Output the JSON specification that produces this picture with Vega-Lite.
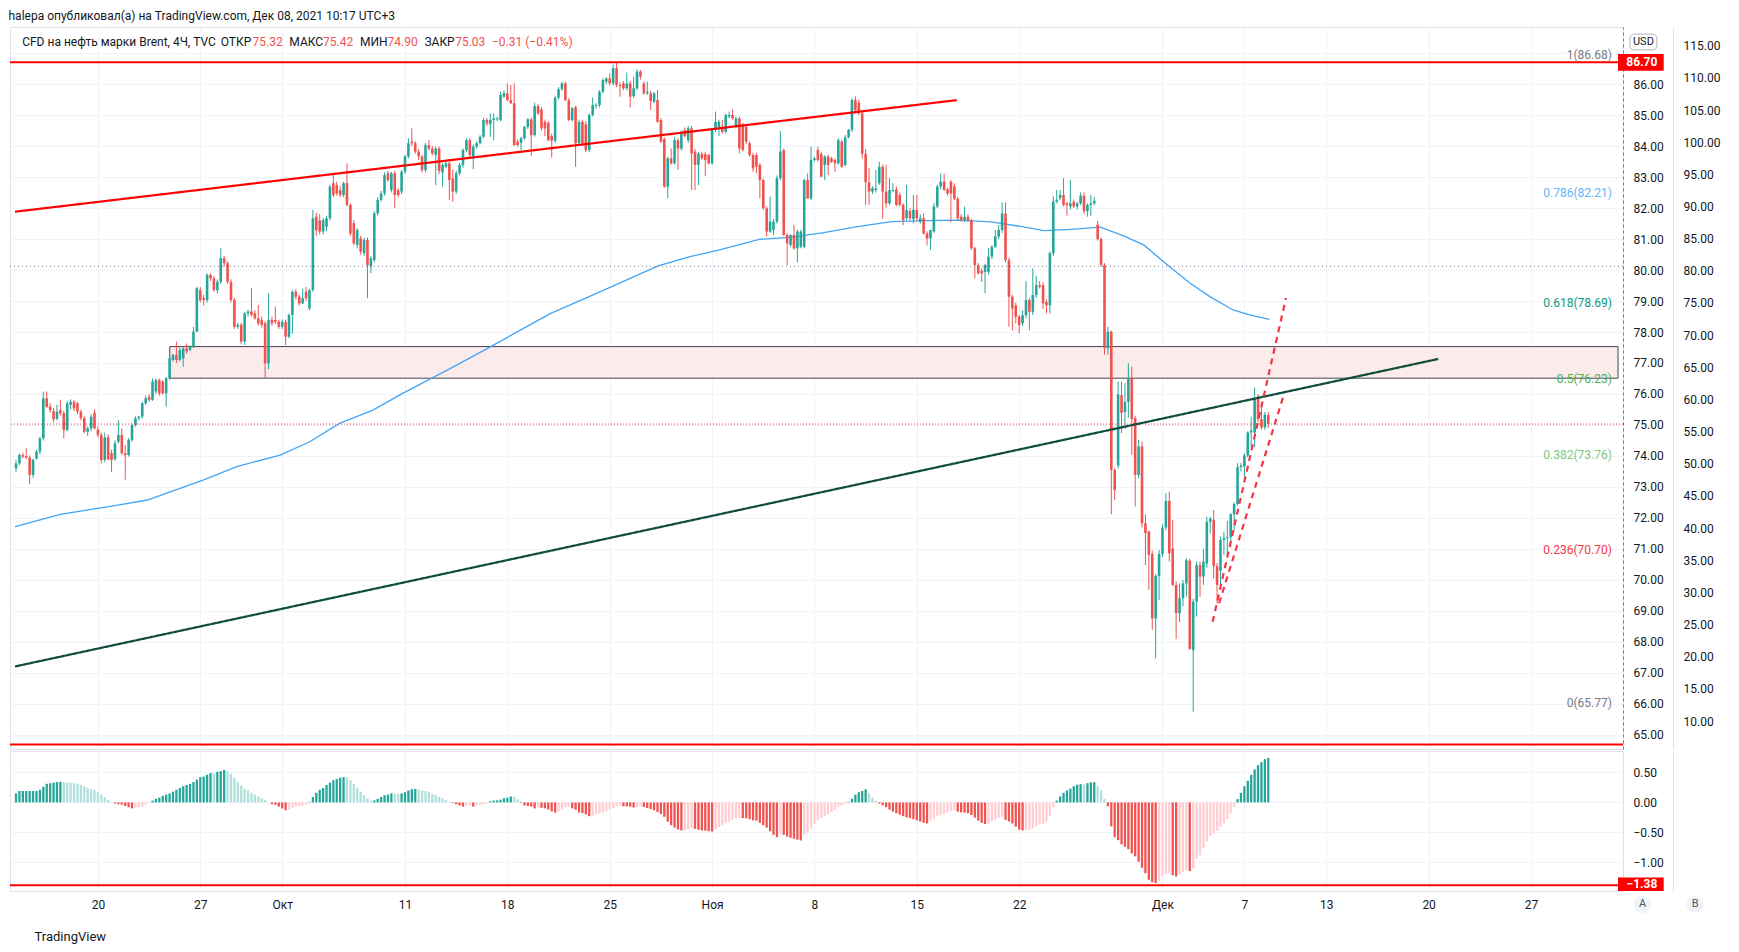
{
  "$schema": "https://vega.github.io/schema/vega-lite/v6.json",
  "padding": {"left": 8, "top": 9, "right": 4, "bottom": 4},
  "background": "white",
  "title": {"text": "halepa опубликовал(а) на TradingView.com, Дек 08, 2021 10:17 UTC+3", "anchor": "start", "fontSize": 12, "fontWeight": "normal", "color": "#131722", "font": "Roboto", "offset": 4},
  "datasets": {
    "bars": [
      {"i":0,"o":73.60,"h":73.87,"l":73.49,"c":73.76,"m":0.15},
      {"i":1,"o":73.76,"h":74.08,"l":73.70,"c":74.03,"m":0.19},
      {"i":2,"o":74.03,"h":74.10,"l":73.92,"c":73.98,"m":0.19},
      {"i":3,"o":74.00,"h":74.25,"l":73.90,"c":73.95,"m":0.19},
      {"i":4,"o":73.95,"h":74.02,"l":73.09,"c":73.39,"m":0.19},
      {"i":5,"o":73.39,"h":73.92,"l":73.30,"c":73.87,"m":0.19},
      {"i":6,"o":73.92,"h":74.20,"l":73.88,"c":74.14,"m":0.19},
      {"i":7,"o":74.14,"h":74.62,"l":74.05,"c":74.57,"m":0.21},
      {"i":8,"o":74.57,"h":76.08,"l":74.50,"c":75.86,"m":0.26},
      {"i":9,"o":75.86,"h":76.08,"l":75.55,"c":75.59,"m":0.31},
      {"i":10,"o":75.59,"h":75.70,"l":75.40,"c":75.48,"m":0.32},
      {"i":11,"o":75.45,"h":75.55,"l":75.10,"c":75.18,"m":0.33},
      {"i":12,"o":75.20,"h":75.65,"l":75.15,"c":75.43,"m":0.34},
      {"i":13,"o":75.48,"h":75.81,"l":75.30,"c":75.38,"m":0.345},
      {"i":14,"o":75.38,"h":75.45,"l":74.57,"c":74.84,"m":0.335},
      {"i":15,"o":74.84,"h":75.78,"l":74.80,"c":75.70,"m":0.33},
      {"i":16,"o":75.65,"h":75.83,"l":75.50,"c":75.75,"m":0.325},
      {"i":17,"o":75.75,"h":75.80,"l":75.45,"c":75.54,"m":0.32},
      {"i":18,"o":75.70,"h":75.75,"l":75.35,"c":75.43,"m":0.31},
      {"i":19,"o":75.43,"h":75.50,"l":75.15,"c":75.22,"m":0.29},
      {"i":20,"o":75.22,"h":75.30,"l":74.73,"c":74.78,"m":0.27},
      {"i":21,"o":74.78,"h":74.95,"l":74.65,"c":74.89,"m":0.24},
      {"i":22,"o":74.89,"h":75.35,"l":74.80,"c":75.27,"m":0.22},
      {"i":23,"o":75.40,"h":75.50,"l":74.85,"c":74.89,"m":0.21},
      {"i":24,"o":74.85,"h":74.95,"l":74.60,"c":74.68,"m":0.17},
      {"i":25,"o":74.68,"h":74.75,"l":73.76,"c":73.87,"m":0.13},
      {"i":26,"o":73.87,"h":74.75,"l":73.80,"c":74.60,"m":0.09},
      {"i":27,"o":74.60,"h":74.70,"l":73.85,"c":73.90,"m":0.04},
      {"i":28,"o":74.10,"h":74.20,"l":73.49,"c":73.87,"m":0.01},
      {"i":29,"o":73.90,"h":74.50,"l":73.85,"c":74.41,"m":-0.02},
      {"i":30,"o":74.46,"h":75.16,"l":74.40,"c":74.68,"m":-0.03},
      {"i":31,"o":74.68,"h":74.89,"l":74.05,"c":74.09,"m":-0.04},
      {"i":32,"o":74.09,"h":74.35,"l":73.23,"c":74.03,"m":-0.06},
      {"i":33,"o":74.03,"h":74.58,"l":73.98,"c":74.52,"m":-0.08},
      {"i":34,"o":74.52,"h":75.05,"l":74.45,"c":75.00,"m":-0.10},
      {"i":35,"o":75.00,"h":75.28,"l":74.95,"c":75.22,"m":-0.095},
      {"i":36,"o":75.22,"h":75.30,"l":75.15,"c":75.27,"m":-0.08},
      {"i":37,"o":75.27,"h":75.75,"l":75.20,"c":75.70,"m":-0.07},
      {"i":38,"o":75.70,"h":75.95,"l":75.65,"c":75.86,"m":-0.04},
      {"i":39,"o":75.90,"h":76.00,"l":75.75,"c":75.81,"m":-0.01},
      {"i":40,"o":75.81,"h":76.50,"l":75.78,"c":76.40,"m":0.03},
      {"i":41,"o":76.08,"h":76.50,"l":76.00,"c":76.45,"m":0.06},
      {"i":42,"o":76.45,"h":76.50,"l":75.95,"c":76.02,"m":0.08},
      {"i":43,"o":76.40,"h":76.45,"l":75.98,"c":76.02,"m":0.11},
      {"i":44,"o":76.02,"h":76.55,"l":75.59,"c":76.51,"m":0.13},
      {"i":45,"o":76.51,"h":77.20,"l":76.45,"c":77.15,"m":0.15},
      {"i":46,"o":77.10,"h":77.30,"l":77.05,"c":77.26,"m":0.18},
      {"i":47,"o":77.26,"h":77.69,"l":77.00,"c":77.10,"m":0.21},
      {"i":48,"o":77.10,"h":77.50,"l":77.05,"c":77.42,"m":0.24},
      {"i":49,"o":77.15,"h":77.50,"l":76.88,"c":77.47,"m":0.27},
      {"i":50,"o":77.47,"h":77.63,"l":77.30,"c":77.37,"m":0.29},
      {"i":51,"o":77.42,"h":77.58,"l":77.38,"c":77.53,"m":0.31},
      {"i":52,"o":77.53,"h":78.17,"l":77.48,"c":78.01,"m":0.34},
      {"i":53,"o":78.01,"h":79.46,"l":78.00,"c":79.41,"m":0.38},
      {"i":54,"o":79.35,"h":79.45,"l":78.95,"c":79.03,"m":0.42},
      {"i":55,"o":79.09,"h":79.20,"l":78.85,"c":79.03,"m":0.43},
      {"i":56,"o":79.03,"h":79.90,"l":78.95,"c":79.84,"m":0.46},
      {"i":57,"o":79.84,"h":79.90,"l":79.65,"c":79.73,"m":0.49},
      {"i":58,"o":79.73,"h":79.80,"l":79.30,"c":79.35,"m":0.485},
      {"i":59,"o":79.35,"h":79.70,"l":79.25,"c":79.62,"m":0.51},
      {"i":60,"o":79.62,"h":80.70,"l":79.55,"c":80.38,"m":0.52},
      {"i":61,"o":80.38,"h":80.45,"l":80.10,"c":80.22,"m":0.54},
      {"i":62,"o":80.22,"h":80.28,"l":79.55,"c":79.62,"m":0.52},
      {"i":63,"o":79.62,"h":79.70,"l":78.95,"c":79.03,"m":0.48},
      {"i":64,"o":79.03,"h":79.10,"l":78.10,"c":78.17,"m":0.41},
      {"i":65,"o":78.17,"h":78.30,"l":78.10,"c":78.23,"m":0.34},
      {"i":66,"o":78.23,"h":78.30,"l":77.60,"c":77.69,"m":0.28},
      {"i":67,"o":77.69,"h":78.65,"l":77.58,"c":78.60,"m":0.23},
      {"i":68,"o":78.60,"h":78.72,"l":78.50,"c":78.66,"m":0.20},
      {"i":69,"o":78.66,"h":79.41,"l":78.50,"c":78.55,"m":0.16},
      {"i":70,"o":78.60,"h":78.70,"l":78.40,"c":78.44,"m":0.13},
      {"i":71,"o":78.44,"h":78.87,"l":78.20,"c":78.28,"m":0.10},
      {"i":72,"o":78.39,"h":78.50,"l":78.15,"c":78.23,"m":0.07},
      {"i":73,"o":78.28,"h":78.35,"l":76.51,"c":76.99,"m":0.04},
      {"i":74,"o":76.99,"h":79.25,"l":76.80,"c":78.39,"m":0.01},
      {"i":75,"o":78.39,"h":78.50,"l":78.20,"c":78.28,"m":-0.03},
      {"i":76,"o":78.39,"h":78.82,"l":78.25,"c":78.33,"m":-0.04},
      {"i":77,"o":78.33,"h":78.40,"l":78.10,"c":78.17,"m":-0.07},
      {"i":78,"o":78.17,"h":78.40,"l":78.10,"c":78.33,"m":-0.10},
      {"i":79,"o":78.33,"h":78.40,"l":77.58,"c":77.85,"m":-0.13},
      {"i":80,"o":77.85,"h":78.60,"l":77.80,"c":78.55,"m":-0.12},
      {"i":81,"o":78.55,"h":79.35,"l":77.95,"c":79.30,"m":-0.09},
      {"i":82,"o":79.30,"h":79.38,"l":79.05,"c":79.14,"m":-0.07},
      {"i":83,"o":79.14,"h":79.20,"l":78.85,"c":78.92,"m":-0.065},
      {"i":84,"o":78.92,"h":79.40,"l":78.90,"c":79.09,"m":-0.055},
      {"i":85,"o":79.30,"h":79.45,"l":79.00,"c":79.09,"m":-0.04},
      {"i":86,"o":78.76,"h":79.40,"l":78.70,"c":79.35,"m":0.01},
      {"i":87,"o":79.35,"h":81.94,"l":79.30,"c":81.67,"m":0.09},
      {"i":88,"o":81.72,"h":81.85,"l":81.10,"c":81.29,"m":0.16},
      {"i":89,"o":81.60,"h":81.80,"l":81.15,"c":81.24,"m":0.21},
      {"i":90,"o":81.24,"h":81.68,"l":81.15,"c":81.61,"m":0.24},
      {"i":91,"o":81.40,"h":81.75,"l":81.25,"c":81.67,"m":0.29},
      {"i":92,"o":81.67,"h":82.75,"l":81.60,"c":82.69,"m":0.33},
      {"i":93,"o":82.80,"h":83.12,"l":82.35,"c":82.42,"m":0.37},
      {"i":94,"o":82.74,"h":82.85,"l":82.40,"c":82.47,"m":0.39},
      {"i":95,"o":82.58,"h":82.70,"l":82.35,"c":82.42,"m":0.41},
      {"i":96,"o":82.42,"h":82.85,"l":82.35,"c":82.80,"m":0.42},
      {"i":97,"o":82.80,"h":83.44,"l":82.05,"c":82.10,"m":0.415},
      {"i":98,"o":82.10,"h":82.15,"l":81.10,"c":81.18,"m":0.37},
      {"i":99,"o":81.51,"h":81.60,"l":80.80,"c":80.86,"m":0.31},
      {"i":100,"o":80.81,"h":81.35,"l":80.70,"c":81.29,"m":0.24},
      {"i":101,"o":81.02,"h":81.10,"l":80.50,"c":80.59,"m":0.18},
      {"i":102,"o":80.54,"h":81.05,"l":80.45,"c":80.97,"m":0.12},
      {"i":103,"o":80.97,"h":81.05,"l":79.09,"c":80.16,"m":0.07},
      {"i":104,"o":80.11,"h":80.45,"l":79.90,"c":80.38,"m":0.03},
      {"i":105,"o":80.32,"h":81.90,"l":80.25,"c":81.83,"m":0.035},
      {"i":106,"o":81.83,"h":82.35,"l":81.75,"c":82.26,"m":0.06},
      {"i":107,"o":82.26,"h":82.55,"l":82.20,"c":82.47,"m":0.09},
      {"i":108,"o":82.47,"h":83.15,"l":82.40,"c":83.06,"m":0.12},
      {"i":109,"o":83.12,"h":83.20,"l":82.85,"c":82.90,"m":0.13},
      {"i":110,"o":82.58,"h":83.17,"l":82.50,"c":83.12,"m":0.15},
      {"i":111,"o":83.12,"h":83.20,"l":82.00,"c":82.42,"m":0.145},
      {"i":112,"o":82.58,"h":82.65,"l":82.35,"c":82.42,"m":0.14},
      {"i":113,"o":82.53,"h":83.22,"l":82.45,"c":83.17,"m":0.15},
      {"i":114,"o":83.17,"h":83.72,"l":83.10,"c":83.66,"m":0.17},
      {"i":115,"o":83.66,"h":84.25,"l":83.60,"c":84.09,"m":0.20},
      {"i":116,"o":84.14,"h":84.57,"l":84.00,"c":84.09,"m":0.22},
      {"i":117,"o":84.09,"h":84.15,"l":83.75,"c":83.82,"m":0.225},
      {"i":118,"o":83.82,"h":83.90,"l":83.55,"c":83.66,"m":0.21},
      {"i":119,"o":83.66,"h":83.72,"l":83.15,"c":83.23,"m":0.20},
      {"i":120,"o":83.23,"h":84.10,"l":83.15,"c":84.03,"m":0.19},
      {"i":121,"o":84.03,"h":84.19,"l":83.85,"c":83.92,"m":0.17},
      {"i":122,"o":83.92,"h":84.00,"l":83.70,"c":83.76,"m":0.14},
      {"i":123,"o":83.71,"h":83.98,"l":82.74,"c":83.92,"m":0.12},
      {"i":124,"o":83.92,"h":83.98,"l":83.10,"c":83.20,"m":0.09},
      {"i":125,"o":83.15,"h":83.45,"l":82.69,"c":83.39,"m":0.07},
      {"i":126,"o":83.33,"h":83.50,"l":83.28,"c":83.44,"m":0.04},
      {"i":127,"o":83.44,"h":83.50,"l":82.26,"c":82.90,"m":0.01},
      {"i":128,"o":82.95,"h":83.25,"l":82.20,"c":82.53,"m":-0.01},
      {"i":129,"o":82.53,"h":83.20,"l":82.45,"c":83.12,"m":-0.03},
      {"i":130,"o":83.12,"h":83.45,"l":83.05,"c":83.39,"m":-0.05},
      {"i":131,"o":83.39,"h":83.92,"l":83.30,"c":83.87,"m":-0.07},
      {"i":132,"o":83.87,"h":84.25,"l":83.80,"c":84.19,"m":-0.055},
      {"i":133,"o":84.19,"h":84.25,"l":83.65,"c":83.71,"m":-0.045},
      {"i":134,"o":83.60,"h":84.05,"l":83.25,"c":83.98,"m":-0.07},
      {"i":135,"o":83.98,"h":84.15,"l":83.92,"c":84.09,"m":-0.05},
      {"i":136,"o":84.09,"h":84.35,"l":84.05,"c":84.30,"m":-0.04},
      {"i":137,"o":84.30,"h":84.90,"l":84.25,"c":84.84,"m":-0.03},
      {"i":138,"o":84.84,"h":84.90,"l":84.65,"c":84.73,"m":-0.02},
      {"i":139,"o":84.70,"h":85.05,"l":84.30,"c":84.84,"m":0.02},
      {"i":140,"o":84.84,"h":85.05,"l":84.19,"c":84.89,"m":0.03},
      {"i":141,"o":84.86,"h":84.95,"l":84.80,"c":84.89,"m":0.035},
      {"i":142,"o":84.84,"h":85.75,"l":84.80,"c":85.65,"m":0.045},
      {"i":143,"o":85.59,"h":85.80,"l":85.55,"c":85.70,"m":0.07},
      {"i":144,"o":85.70,"h":86.02,"l":85.45,"c":85.48,"m":0.08},
      {"i":145,"o":85.48,"h":85.97,"l":85.35,"c":85.38,"m":0.10},
      {"i":146,"o":85.38,"h":86.02,"l":84.00,"c":84.03,"m":0.095},
      {"i":147,"o":84.14,"h":84.20,"l":83.98,"c":84.03,"m":0.05},
      {"i":148,"o":84.10,"h":84.30,"l":83.87,"c":84.25,"m":-0.01},
      {"i":149,"o":84.25,"h":84.65,"l":84.20,"c":84.62,"m":-0.05},
      {"i":150,"o":84.62,"h":84.90,"l":84.55,"c":84.86,"m":-0.06},
      {"i":151,"o":84.86,"h":84.92,"l":83.68,"c":84.35,"m":-0.07},
      {"i":152,"o":84.35,"h":85.40,"l":84.30,"c":85.29,"m":-0.10},
      {"i":153,"o":85.29,"h":85.35,"l":85.00,"c":85.05,"m":-0.08},
      {"i":154,"o":85.18,"h":85.25,"l":84.50,"c":84.57,"m":-0.09},
      {"i":155,"o":84.78,"h":84.85,"l":84.32,"c":84.57,"m":-0.10},
      {"i":156,"o":84.75,"h":84.80,"l":84.15,"c":84.19,"m":-0.12},
      {"i":157,"o":84.32,"h":84.40,"l":83.63,"c":84.17,"m":-0.15},
      {"i":158,"o":84.17,"h":85.60,"l":84.10,"c":85.56,"m":-0.17},
      {"i":159,"o":85.56,"h":85.90,"l":85.50,"c":85.83,"m":-0.15},
      {"i":160,"o":85.83,"h":86.06,"l":85.78,"c":86.02,"m":-0.12},
      {"i":161,"o":86.02,"h":86.08,"l":85.45,"c":85.48,"m":-0.08},
      {"i":162,"o":85.48,"h":85.55,"l":84.80,"c":84.84,"m":-0.075},
      {"i":163,"o":84.84,"h":85.25,"l":84.78,"c":85.22,"m":-0.10},
      {"i":164,"o":85.25,"h":85.30,"l":83.33,"c":84.09,"m":-0.12},
      {"i":165,"o":84.09,"h":84.85,"l":84.00,"c":84.78,"m":-0.17},
      {"i":166,"o":84.78,"h":84.85,"l":84.00,"c":84.09,"m":-0.18},
      {"i":167,"o":84.70,"h":84.80,"l":83.80,"c":83.87,"m":-0.20},
      {"i":168,"o":83.87,"h":85.05,"l":83.80,"c":85.00,"m":-0.23},
      {"i":169,"o":85.00,"h":85.56,"l":84.95,"c":85.32,"m":-0.22},
      {"i":170,"o":85.29,"h":85.38,"l":85.20,"c":85.32,"m":-0.20},
      {"i":171,"o":85.32,"h":85.80,"l":85.25,"c":85.75,"m":-0.185},
      {"i":172,"o":85.75,"h":86.18,"l":85.70,"c":86.13,"m":-0.17},
      {"i":173,"o":86.08,"h":86.22,"l":86.00,"c":86.18,"m":-0.15},
      {"i":174,"o":86.18,"h":86.34,"l":85.95,"c":86.02,"m":-0.12},
      {"i":175,"o":86.02,"h":86.63,"l":85.95,"c":86.51,"m":-0.095},
      {"i":176,"o":86.51,"h":86.68,"l":85.90,"c":85.97,"m":-0.07},
      {"i":177,"o":85.97,"h":86.05,"l":85.59,"c":85.94,"m":-0.055},
      {"i":178,"o":86.02,"h":86.10,"l":85.80,"c":85.86,"m":-0.065},
      {"i":179,"o":85.86,"h":86.37,"l":85.80,"c":86.02,"m":-0.067},
      {"i":180,"o":86.02,"h":86.10,"l":85.25,"c":85.59,"m":-0.07},
      {"i":181,"o":85.61,"h":86.24,"l":85.55,"c":85.86,"m":-0.085},
      {"i":182,"o":85.86,"h":86.47,"l":85.80,"c":86.40,"m":-0.08},
      {"i":183,"o":86.40,"h":86.45,"l":86.15,"c":86.24,"m":-0.065},
      {"i":184,"o":86.02,"h":86.08,"l":85.65,"c":85.70,"m":-0.075},
      {"i":185,"o":85.70,"h":86.08,"l":85.65,"c":85.75,"m":-0.095},
      {"i":186,"o":85.70,"h":85.78,"l":85.16,"c":85.45,"m":-0.11},
      {"i":187,"o":85.43,"h":85.75,"l":85.38,"c":85.70,"m":-0.13},
      {"i":188,"o":85.48,"h":85.81,"l":84.75,"c":84.78,"m":-0.16},
      {"i":189,"o":84.84,"h":84.90,"l":84.10,"c":84.14,"m":-0.195},
      {"i":190,"o":84.22,"h":84.28,"l":82.65,"c":82.69,"m":-0.24},
      {"i":191,"o":82.69,"h":83.65,"l":82.31,"c":83.60,"m":-0.32},
      {"i":192,"o":83.60,"h":83.92,"l":83.40,"c":83.44,"m":-0.38},
      {"i":193,"o":83.44,"h":84.28,"l":83.40,"c":84.19,"m":-0.42},
      {"i":194,"o":84.19,"h":84.25,"l":83.23,"c":83.92,"m":-0.45},
      {"i":195,"o":83.92,"h":84.50,"l":83.85,"c":84.46,"m":-0.467},
      {"i":196,"o":84.52,"h":84.60,"l":84.28,"c":84.32,"m":-0.46},
      {"i":197,"o":84.19,"h":84.65,"l":84.10,"c":84.57,"m":-0.45},
      {"i":198,"o":84.57,"h":84.65,"l":82.58,"c":83.76,"m":-0.43},
      {"i":199,"o":83.82,"h":83.90,"l":82.58,"c":83.39,"m":-0.44},
      {"i":200,"o":83.39,"h":83.80,"l":82.74,"c":83.76,"m":-0.455},
      {"i":201,"o":83.74,"h":83.82,"l":83.55,"c":83.60,"m":-0.467},
      {"i":202,"o":83.74,"h":83.80,"l":83.03,"c":83.55,"m":-0.47},
      {"i":203,"o":83.71,"h":83.75,"l":83.40,"c":83.44,"m":-0.48},
      {"i":204,"o":83.44,"h":84.58,"l":83.40,"c":84.52,"m":-0.485},
      {"i":205,"o":84.52,"h":85.11,"l":84.45,"c":84.78,"m":-0.45},
      {"i":206,"o":84.62,"h":84.85,"l":84.32,"c":84.78,"m":-0.41},
      {"i":207,"o":84.62,"h":84.84,"l":84.40,"c":84.46,"m":-0.38},
      {"i":208,"o":84.46,"h":85.05,"l":84.40,"c":85.00,"m":-0.34},
      {"i":209,"o":84.95,"h":85.11,"l":84.90,"c":85.00,"m":-0.32},
      {"i":210,"o":85.00,"h":85.18,"l":84.85,"c":84.89,"m":-0.29},
      {"i":211,"o":84.62,"h":84.95,"l":84.57,"c":84.89,"m":-0.27},
      {"i":212,"o":84.89,"h":84.95,"l":83.76,"c":83.92,"m":-0.255},
      {"i":213,"o":84.68,"h":84.75,"l":83.82,"c":83.87,"m":-0.26},
      {"i":214,"o":84.62,"h":84.68,"l":84.05,"c":84.14,"m":-0.265},
      {"i":215,"o":84.09,"h":84.15,"l":83.65,"c":83.71,"m":-0.28},
      {"i":216,"o":83.71,"h":83.78,"l":83.17,"c":83.28,"m":-0.30},
      {"i":217,"o":83.71,"h":83.78,"l":83.12,"c":83.33,"m":-0.305},
      {"i":218,"o":83.39,"h":83.45,"l":82.31,"c":82.90,"m":-0.34},
      {"i":219,"o":82.90,"h":82.95,"l":81.94,"c":81.99,"m":-0.38},
      {"i":220,"o":81.99,"h":82.05,"l":81.08,"c":81.24,"m":-0.42},
      {"i":221,"o":81.24,"h":82.37,"l":81.20,"c":81.56,"m":-0.48},
      {"i":222,"o":81.29,"h":81.65,"l":81.13,"c":81.56,"m":-0.54},
      {"i":223,"o":81.56,"h":83.05,"l":81.50,"c":82.96,"m":-0.58},
      {"i":224,"o":82.96,"h":84.49,"l":82.90,"c":83.82,"m":-0.52},
      {"i":225,"o":83.87,"h":83.92,"l":81.10,"c":81.13,"m":-0.54},
      {"i":226,"o":81.13,"h":81.20,"l":80.16,"c":80.86,"m":-0.57},
      {"i":227,"o":80.81,"h":81.15,"l":80.75,"c":81.13,"m":-0.59},
      {"i":228,"o":81.13,"h":81.45,"l":80.65,"c":80.70,"m":-0.605},
      {"i":229,"o":80.70,"h":81.30,"l":80.25,"c":81.24,"m":-0.62},
      {"i":230,"o":80.75,"h":81.30,"l":80.70,"c":81.24,"m":-0.635},
      {"i":231,"o":80.75,"h":82.95,"l":80.70,"c":82.90,"m":-0.54},
      {"i":232,"o":82.90,"h":83.12,"l":82.30,"c":82.31,"m":-0.51},
      {"i":233,"o":82.31,"h":83.98,"l":82.25,"c":83.55,"m":-0.44},
      {"i":234,"o":83.55,"h":83.65,"l":83.50,"c":83.60,"m":-0.36},
      {"i":235,"o":83.87,"h":83.98,"l":83.50,"c":83.55,"m":-0.30},
      {"i":236,"o":83.74,"h":83.80,"l":83.00,"c":83.01,"m":-0.26},
      {"i":237,"o":83.39,"h":83.70,"l":82.90,"c":83.66,"m":-0.23},
      {"i":238,"o":83.66,"h":83.72,"l":83.06,"c":83.39,"m":-0.20},
      {"i":239,"o":83.60,"h":83.65,"l":83.45,"c":83.49,"m":-0.16},
      {"i":240,"o":83.55,"h":83.60,"l":83.17,"c":83.44,"m":-0.12},
      {"i":241,"o":83.44,"h":84.25,"l":83.40,"c":84.19,"m":-0.08},
      {"i":242,"o":84.14,"h":84.20,"l":83.30,"c":83.33,"m":-0.05},
      {"i":243,"o":83.39,"h":84.35,"l":83.35,"c":84.28,"m":-0.02},
      {"i":244,"o":84.28,"h":84.55,"l":84.25,"c":84.52,"m":0.01},
      {"i":245,"o":84.52,"h":85.54,"l":84.45,"c":85.48,"m":0.06},
      {"i":246,"o":85.48,"h":85.60,"l":85.10,"c":85.16,"m":0.13},
      {"i":247,"o":85.40,"h":85.50,"l":85.00,"c":85.05,"m":0.17},
      {"i":248,"o":85.05,"h":85.15,"l":83.60,"c":83.75,"m":0.19},
      {"i":249,"o":83.75,"h":83.90,"l":82.10,"c":82.83,"m":0.22},
      {"i":250,"o":82.83,"h":83.28,"l":82.10,"c":82.53,"m":0.15},
      {"i":251,"o":82.53,"h":82.70,"l":82.45,"c":82.64,"m":0.08},
      {"i":252,"o":82.58,"h":83.22,"l":82.50,"c":82.63,"m":0.03},
      {"i":253,"o":82.80,"h":83.49,"l":82.75,"c":83.33,"m":-0.02},
      {"i":254,"o":83.33,"h":83.40,"l":81.65,"c":82.53,"m":-0.05},
      {"i":255,"o":82.53,"h":83.39,"l":82.01,"c":82.15,"m":-0.08},
      {"i":256,"o":82.15,"h":82.96,"l":82.10,"c":82.58,"m":-0.12},
      {"i":257,"o":82.55,"h":82.80,"l":82.50,"c":82.58,"m":-0.155},
      {"i":258,"o":82.60,"h":82.70,"l":82.05,"c":82.10,"m":-0.18},
      {"i":259,"o":82.42,"h":82.50,"l":82.05,"c":82.10,"m":-0.205},
      {"i":260,"o":82.10,"h":82.15,"l":81.45,"c":81.61,"m":-0.23},
      {"i":261,"o":81.67,"h":82.75,"l":81.60,"c":81.94,"m":-0.25},
      {"i":262,"o":81.90,"h":82.00,"l":81.60,"c":81.67,"m":-0.26},
      {"i":263,"o":81.64,"h":82.42,"l":81.51,"c":81.94,"m":-0.28},
      {"i":264,"o":81.94,"h":82.42,"l":81.60,"c":81.67,"m":-0.30},
      {"i":265,"o":81.56,"h":81.80,"l":81.50,"c":81.67,"m":-0.32},
      {"i":266,"o":81.67,"h":81.83,"l":81.15,"c":81.18,"m":-0.34},
      {"i":267,"o":81.18,"h":81.25,"l":80.79,"c":81.02,"m":-0.35},
      {"i":268,"o":81.02,"h":81.30,"l":80.65,"c":81.29,"m":-0.30},
      {"i":269,"o":81.24,"h":82.15,"l":81.20,"c":82.05,"m":-0.27},
      {"i":270,"o":82.05,"h":82.75,"l":82.00,"c":82.69,"m":-0.23},
      {"i":271,"o":82.69,"h":83.11,"l":82.60,"c":82.85,"m":-0.21},
      {"i":272,"o":82.85,"h":83.11,"l":82.55,"c":82.58,"m":-0.19},
      {"i":273,"o":82.60,"h":82.65,"l":82.40,"c":82.47,"m":-0.165},
      {"i":274,"o":82.85,"h":82.90,"l":81.54,"c":82.47,"m":-0.145},
      {"i":275,"o":82.70,"h":82.80,"l":82.25,"c":82.30,"m":-0.13},
      {"i":276,"o":82.30,"h":82.35,"l":81.60,"c":81.67,"m":-0.155},
      {"i":277,"o":81.72,"h":81.80,"l":81.55,"c":81.61,"m":-0.165},
      {"i":278,"o":81.61,"h":82.05,"l":81.55,"c":81.72,"m":-0.17},
      {"i":279,"o":81.72,"h":81.80,"l":81.55,"c":81.61,"m":-0.18},
      {"i":280,"o":81.61,"h":81.65,"l":80.65,"c":80.70,"m":-0.21},
      {"i":281,"o":80.70,"h":80.75,"l":79.73,"c":80.16,"m":-0.255},
      {"i":282,"o":80.16,"h":80.22,"l":79.85,"c":79.89,"m":-0.305},
      {"i":283,"o":79.97,"h":80.05,"l":79.62,"c":79.89,"m":-0.34},
      {"i":284,"o":79.94,"h":80.20,"l":79.25,"c":80.16,"m":-0.36},
      {"i":285,"o":79.94,"h":80.70,"l":79.85,"c":80.43,"m":-0.355},
      {"i":286,"o":80.43,"h":80.80,"l":80.35,"c":80.75,"m":-0.31},
      {"i":287,"o":80.75,"h":81.29,"l":80.70,"c":81.08,"m":-0.285},
      {"i":288,"o":81.08,"h":81.45,"l":81.00,"c":81.29,"m":-0.255},
      {"i":289,"o":81.29,"h":82.18,"l":81.20,"c":81.82,"m":-0.245},
      {"i":290,"o":81.82,"h":82.18,"l":80.25,"c":80.32,"m":-0.29},
      {"i":291,"o":80.32,"h":80.40,"l":78.17,"c":79.14,"m":-0.32},
      {"i":292,"o":79.14,"h":79.20,"l":78.05,"c":78.76,"m":-0.35},
      {"i":293,"o":78.86,"h":78.95,"l":78.28,"c":78.49,"m":-0.405},
      {"i":294,"o":78.49,"h":78.55,"l":77.96,"c":78.22,"m":-0.455},
      {"i":295,"o":78.28,"h":78.70,"l":78.20,"c":78.54,"m":-0.467},
      {"i":296,"o":78.54,"h":79.64,"l":78.45,"c":79.03,"m":-0.46},
      {"i":297,"o":79.03,"h":79.10,"l":78.06,"c":78.65,"m":-0.455},
      {"i":298,"o":78.65,"h":80.05,"l":78.55,"c":79.19,"m":-0.43},
      {"i":299,"o":79.19,"h":79.80,"l":79.10,"c":79.51,"m":-0.40},
      {"i":300,"o":79.51,"h":79.64,"l":79.40,"c":79.46,"m":-0.37},
      {"i":301,"o":79.51,"h":79.60,"l":78.74,"c":78.92,"m":-0.36},
      {"i":302,"o":78.97,"h":79.05,"l":78.60,"c":78.86,"m":-0.32},
      {"i":303,"o":78.86,"h":80.60,"l":78.60,"c":80.54,"m":-0.22},
      {"i":304,"o":80.54,"h":82.37,"l":80.45,"c":82.21,"m":-0.08},
      {"i":305,"o":82.21,"h":82.58,"l":82.15,"c":82.26,"m":0.03},
      {"i":306,"o":82.32,"h":82.58,"l":82.25,"c":82.42,"m":0.10},
      {"i":307,"o":82.42,"h":82.96,"l":82.05,"c":82.10,"m":0.16},
      {"i":308,"o":82.15,"h":82.20,"l":81.75,"c":82.10,"m":0.20},
      {"i":309,"o":82.05,"h":82.90,"l":81.95,"c":82.15,"m":0.23},
      {"i":310,"o":82.20,"h":82.28,"l":82.00,"c":82.05,"m":0.27},
      {"i":311,"o":82.05,"h":82.20,"l":81.95,"c":82.15,"m":0.295},
      {"i":312,"o":82.15,"h":82.50,"l":82.10,"c":82.40,"m":0.305},
      {"i":313,"o":82.40,"h":82.50,"l":81.80,"c":81.90,"m":0.30},
      {"i":314,"o":81.90,"h":82.15,"l":81.72,"c":82.10,"m":0.32},
      {"i":315,"o":82.10,"h":82.42,"l":81.75,"c":82.15,"m":0.335},
      {"i":316,"o":82.15,"h":82.35,"l":82.10,"c":82.23,"m":0.337},
      {"i":317,"o":81.46,"h":81.58,"l":80.95,"c":81.00,"m":0.27},
      {"i":318,"o":81.00,"h":81.05,"l":80.10,"c":80.16,"m":0.20},
      {"i":319,"o":80.16,"h":80.22,"l":77.27,"c":77.48,"m":0.06},
      {"i":320,"o":77.48,"h":78.17,"l":77.27,"c":78.01,"m":-0.065},
      {"i":321,"o":78.01,"h":78.05,"l":72.12,"c":73.55,"m":-0.40},
      {"i":322,"o":73.55,"h":73.60,"l":72.58,"c":72.90,"m":-0.58},
      {"i":323,"o":73.69,"h":76.40,"l":73.60,"c":75.99,"m":-0.63},
      {"i":324,"o":75.96,"h":76.40,"l":74.74,"c":75.39,"m":-0.70},
      {"i":325,"o":75.42,"h":76.35,"l":74.88,"c":75.74,"m":-0.74},
      {"i":326,"o":75.74,"h":76.99,"l":75.23,"c":76.51,"m":-0.78},
      {"i":327,"o":76.51,"h":76.88,"l":74.04,"c":75.19,"m":-0.85},
      {"i":328,"o":75.22,"h":75.30,"l":72.37,"c":73.39,"m":-0.90},
      {"i":329,"o":73.39,"h":74.52,"l":73.28,"c":74.31,"m":-0.99},
      {"i":330,"o":74.31,"h":74.47,"l":71.70,"c":71.83,"m":-1.09},
      {"i":331,"o":71.83,"h":72.12,"l":70.48,"c":71.51,"m":-1.18},
      {"i":332,"o":71.56,"h":71.60,"l":69.68,"c":70.81,"m":-1.29},
      {"i":333,"o":70.84,"h":70.95,"l":68.39,"c":68.76,"m":-1.33},
      {"i":334,"o":68.76,"h":70.20,"l":67.47,"c":70.13,"m":-1.345},
      {"i":335,"o":70.13,"h":70.97,"l":69.35,"c":70.84,"m":-1.305},
      {"i":336,"o":70.84,"h":71.80,"l":70.75,"c":71.69,"m":-1.22},
      {"i":337,"o":71.69,"h":72.80,"l":71.60,"c":72.55,"m":-1.19},
      {"i":338,"o":72.55,"h":72.85,"l":70.60,"c":70.86,"m":-1.185},
      {"i":339,"o":71.02,"h":71.94,"l":69.80,"c":69.84,"m":-1.215},
      {"i":340,"o":69.84,"h":69.95,"l":68.09,"c":68.93,"m":-1.235},
      {"i":341,"o":68.93,"h":69.89,"l":68.65,"c":69.41,"m":-1.205},
      {"i":342,"o":69.41,"h":70.00,"l":69.15,"c":69.89,"m":-1.16},
      {"i":343,"o":69.89,"h":70.70,"l":69.46,"c":70.64,"m":-1.13},
      {"i":344,"o":70.62,"h":70.68,"l":67.74,"c":67.78,"m":-1.145},
      {"i":345,"o":67.74,"h":69.40,"l":65.75,"c":69.30,"m":-1.10},
      {"i":346,"o":69.30,"h":70.60,"l":68.82,"c":70.48,"m":-0.94},
      {"i":347,"o":70.48,"h":70.59,"l":69.46,"c":70.11,"m":-0.88},
      {"i":348,"o":70.11,"h":71.00,"l":69.84,"c":70.59,"m":-0.76},
      {"i":349,"o":70.53,"h":72.04,"l":70.40,"c":71.88,"m":-0.65},
      {"i":350,"o":71.88,"h":72.04,"l":71.50,"c":71.98,"m":-0.56},
      {"i":351,"o":71.94,"h":72.26,"l":70.05,"c":70.45,"m":-0.52},
      {"i":352,"o":70.45,"h":70.55,"l":69.24,"c":69.84,"m":-0.47},
      {"i":353,"o":70.30,"h":71.40,"l":69.84,"c":71.29,"m":-0.405},
      {"i":354,"o":71.29,"h":71.56,"l":70.81,"c":71.35,"m":-0.345},
      {"i":355,"o":71.35,"h":71.91,"l":70.80,"c":71.38,"m":-0.28},
      {"i":356,"o":71.38,"h":72.15,"l":71.05,"c":72.12,"m":-0.18},
      {"i":357,"o":72.12,"h":72.50,"l":71.60,"c":72.45,"m":-0.08},
      {"i":358,"o":72.45,"h":73.77,"l":72.40,"c":73.64,"m":0.055},
      {"i":359,"o":73.64,"h":73.77,"l":73.50,"c":73.69,"m":0.16},
      {"i":360,"o":73.66,"h":74.09,"l":73.17,"c":74.02,"m":0.27},
      {"i":361,"o":74.02,"h":74.80,"l":73.95,"c":74.76,"m":0.36},
      {"i":362,"o":74.76,"h":75.27,"l":74.28,"c":74.82,"m":0.46},
      {"i":363,"o":74.76,"h":76.21,"l":74.28,"c":75.86,"m":0.55},
      {"i":364,"o":75.92,"h":76.00,"l":75.10,"c":75.19,"m":0.62},
      {"i":365,"o":75.19,"h":75.60,"l":74.85,"c":74.92,"m":0.67},
      {"i":366,"o":74.92,"h":75.42,"l":74.85,"c":75.33,"m":0.72},
      {"i":367,"o":75.32,"h":75.42,"l":74.90,"c":75.03,"m":0.74}
    ],
    "ma": [
      {"i":-0.3,"p":71.72},{"i":13,"p":72.12},{"i":29,"p":72.40},{"i":38.5,"p":72.58},{"i":55,"p":73.23},
      {"i":64.7,"p":73.66},{"i":77.4,"p":74.03},{"i":86.1,"p":74.46},{"i":94.8,"p":75.05},{"i":104.6,"p":75.48},
      {"i":113.3,"p":76.02},{"i":127.9,"p":76.86},{"i":138.2,"p":77.47},{"i":147,"p":78.01},{"i":156.7,"p":78.60},
      {"i":168.3,"p":79.16},{"i":179,"p":79.68},{"i":188.2,"p":80.13},{"i":197.5,"p":80.43},{"i":206.2,"p":80.65},
      {"i":217.8,"p":80.99},{"i":226.6,"p":81.05},{"i":236.3,"p":81.20},{"i":247,"p":81.41},{"i":256.7,"p":81.56},
      {"i":266.4,"p":81.59},{"i":276.1,"p":81.61},{"i":285.8,"p":81.55},{"i":293.6,"p":81.42},{"i":301.3,"p":81.27},
      {"i":309.1,"p":81.31},{"i":317.8,"p":81.38},{"i":324.6,"p":81.10},{"i":330.5,"p":80.81},{"i":336.3,"p":80.27},
      {"i":344.1,"p":79.57},{"i":349.9,"p":79.14},{"i":356.7,"p":78.71},{"i":361.5,"p":78.55},{"i":367.4,"p":78.41}
    ],
    "lines": [
      {"line":"res","i":-0.3,"p":81.88},{"line":"res","i":275.7,"p":85.48},
      {"line":"sup","i":-0.3,"p":67.21},{"line":"sup","i":416.8,"p":77.13},
      {"line":"chanUp","i":350.7,"p":68.65},{"line":"chanUp","i":372.2,"p":79.10},
      {"line":"chanDn","i":352.6,"p":69.25},{"line":"chanDn","i":371.5,"p":75.95}
    ],
    "fib": [
      {"lvl":"1","p":86.68,"t":"1(86.68)"},
      {"lvl":"0.786","p":82.21,"t":"0.786(82.21)"},
      {"lvl":"0.618","p":78.69,"t":"0.618(78.69)"},
      {"lvl":"0.5","p":76.23,"t":"0.5(76.23)"},
      {"lvl":"0.382","p":73.76,"t":"0.382(73.76)"},
      {"lvl":"0.236","p":70.70,"t":"0.236(70.70)"},
      {"lvl":"0","p":65.77,"t":"0(65.77)"}
    ],
    "legend": [
      {"i":1.8,"t":"CFD на нефть марки Brent, 4Ч, TVC","k":"n"},
      {"i":60.0,"t":"ОТКР","k":"n"},
      {"i":69.3,"t":"75.32","k":"v"},
      {"i":80.1,"t":"МАКС","k":"n"},
      {"i":90.0,"t":"75.42","k":"v"},
      {"i":100.8,"t":"МИН","k":"n"},
      {"i":108.9,"t":"74.90","k":"v"},
      {"i":119.7,"t":"ЗАКР","k":"n"},
      {"i":128.7,"t":"75.03","k":"v"},
      {"i":139.5,"t":"−0.31 (−0.41%)","k":"v"}
    ],
    "ab": [
      {"i":476.7,"t":"A"},
      {"i":492.1,"t":"B"}
    ]
  },
  "spacing": 0,
  "vconcat": [
    {
      "width": 1613,
      "height": 722,
      "layer": [
        {
          "layer": [
            {
              "data": {"name": "bars"},
              "mark": {"type": "rule", "opacity": 0},
              "encoding": {
                "x": {
                  "field": "i", "type": "quantitative", "title": null,
                  "scale": {"domain": [-0.3, 469.5], "nice": false, "zero": false},
                  "axis": {"values": [24, 54, 78, 114, 144, 174, 204, 234, 264, 294, 336, 360, 384, 414, 444], "tickCount": 100, "labels": false, "ticks": false, "domain": false, "grid": true, "gridColor": "#f0f3fa", "title": null, "minExtent": 0, "maxExtent": 0}
                },
                "y": {
                  "field": "l", "type": "quantitative", "title": null,
                  "scale": {"domain": [64.548, 87.839], "nice": false, "zero": false},
                  "axis": {"orient": "right", "values": [65, 66, 67, 68, 69, 70, 71, 72, 73, 74, 75, 76, 77, 78, 79, 80, 81, 82, 83, 84, 85, 86, 87], "tickCount": 100, "labelExpr": "datum.value == 87 ? '' : format(datum.value, '.2f')", "labelOverlap": false, "grid": true, "gridColor": "#f0f3fa", "ticks": false, "labelPadding": 10, "domainDash": [3, 3], "domainColor": "#787b86", "title": null}
                },
                "y2": {"field": "h"}
              }
            },
            {
              "data": {"values": [{}]},
              "mark": {"type": "rect", "fill": "#fcebeb", "stroke": "#434651", "strokeWidth": 1},
              "encoding": {
                "x": {"datum": 45.05, "type": "quantitative"},
                "x2": {"datum": 469.5},
                "y": {"datum": 77.53, "type": "quantitative"},
                "y2": {"datum": 76.51}
              }
            },
            {
              "data": {"name": "ma"},
              "mark": {"type": "line", "color": "#42a5f5", "strokeWidth": 1.3},
              "encoding": {
                "x": {"field": "i", "type": "quantitative"},
                "y": {"field": "p", "type": "quantitative"}
              }
            },
            {
              "data": {"name": "bars"},
              "mark": {"type": "rule", "strokeWidth": 1},
              "encoding": {
                "x": {"field": "i", "type": "quantitative"},
                "y": {"field": "l", "type": "quantitative"},
                "y2": {"field": "h"},
                "color": {"condition": {"test": "datum.c >= datum.o", "value": "#26a69a"}, "value": "#ef5350"}
              }
            },
            {
              "data": {"name": "bars"},
              "mark": {"type": "bar", "size": 2.6},
              "encoding": {
                "x": {"field": "i", "type": "quantitative"},
                "y": {"field": "o", "type": "quantitative"},
                "y2": {"field": "c"},
                "color": {"condition": {"test": "datum.c >= datum.o", "value": "#26a69a"}, "value": "#ef5350"}
              }
            },
            {
              "data": {"values": [{}]},
              "mark": {"type": "rule", "color": "#787b86", "strokeWidth": 1, "strokeDash": [1, 3]},
              "encoding": {"y": {"datum": 80.12, "type": "quantitative"}}
            },
            {
              "data": {"values": [{}]},
              "mark": {"type": "rule", "color": "#f23645", "strokeWidth": 1, "strokeDash": [1, 2]},
              "encoding": {"y": {"datum": 75.03, "type": "quantitative"}}
            },
            {
              "data": {"values": [{}]},
              "mark": {"type": "rule", "color": "#ff0000", "strokeWidth": 2},
              "encoding": {"y": {"datum": 86.70, "type": "quantitative"}}
            },
            {
              "data": {"values": [{}]},
              "mark": {"type": "rule", "color": "#ff0000", "strokeWidth": 2},
              "encoding": {"y": {"datum": 64.69, "type": "quantitative"}}
            },
            {
              "data": {"name": "lines"},
              "mark": {"type": "line"},
              "encoding": {
                "x": {"field": "i", "type": "quantitative"},
                "y": {"field": "p", "type": "quantitative"},
                "detail": {"field": "line"},
                "color": {"field": "line", "type": "nominal", "legend": null, "scale": {"domain": ["res", "sup", "chanUp", "chanDn"], "range": ["#ff0000", "#0f4d3c", "#f23645", "#f23645"]}},
                "strokeDash": {"field": "line", "type": "nominal", "legend": null, "scale": {"domain": ["res", "sup", "chanUp", "chanDn"], "range": [[1, 0], [1, 0], [6, 5], [6, 5]]}},
                "strokeWidth": {"field": "line", "type": "nominal", "legend": null, "scale": {"domain": ["res", "sup", "chanUp", "chanDn"], "range": [2.2, 2.2, 1.5, 1.5]}}
              }
            },
            {
              "data": {"name": "fib"},
              "mark": {"type": "text", "align": "right", "baseline": "bottom", "dy": -1, "fontSize": 12},
              "encoding": {
                "x": {"datum": 467.7, "type": "quantitative"},
                "y": {"field": "p", "type": "quantitative"},
                "text": {"field": "t"},
                "color": {"field": "lvl", "type": "nominal", "legend": null, "scale": {"domain": ["1", "0.786", "0.618", "0.5", "0.382", "0.236", "0"], "range": ["#787b86", "#64b5f6", "#089981", "#4caf50", "#81c784", "#f23645", "#787b86"]}}
              }
            },
            {
              "data": {"name": "legend"},
              "mark": {"type": "text", "align": "left", "baseline": "middle", "fontSize": 12},
              "encoding": {
                "x": {"field": "i", "type": "quantitative"},
                "y": {"datum": 87.36, "type": "quantitative"},
                "text": {"field": "t"},
                "color": {"field": "k", "type": "nominal", "legend": null, "scale": {"domain": ["n", "v"], "range": ["#131722", "#ef5350"]}}
              }
            },
            {
              "data": {"values": [{}]},
              "mark": {"type": "rect", "color": "#ff0000"},
              "encoding": {
                "x": {"datum": 469.5, "type": "quantitative"},
                "x2": {"datum": 482.9},
                "y": {"datum": 86.97, "type": "quantitative"},
                "y2": {"datum": 86.43}
              }
            },
            {
              "data": {"values": [{}]},
              "mark": {"type": "text", "align": "center", "baseline": "middle", "color": "white", "fontWeight": "bold", "fontSize": 12, "text": "86.70"},
              "encoding": {
                "x": {"datum": 476.5, "type": "quantitative"},
                "y": {"datum": 86.70, "type": "quantitative"}
              }
            },
            {
              "data": {"values": [{}]},
              "mark": {"type": "rect", "fill": "white", "stroke": "#b2b5be", "strokeWidth": 1, "cornerRadius": 4},
              "encoding": {
                "x": {"datum": 473.0, "type": "quantitative"},
                "x2": {"datum": 480.9},
                "y": {"datum": 87.61, "type": "quantitative"},
                "y2": {"datum": 87.10}
              }
            },
            {
              "data": {"values": [{}]},
              "mark": {"type": "text", "align": "center", "baseline": "middle", "color": "#131722", "fontSize": 11, "text": "USD"},
              "encoding": {
                "x": {"datum": 476.95, "type": "quantitative"},
                "y": {"datum": 87.36, "type": "quantitative"}
              }
            }
          ],
          "resolve": {"scale": {"color": "independent", "strokeDash": "independent", "strokeWidth": "independent"}}
        },
        {
          "data": {"values": [{}]},
          "mark": {"type": "rule", "opacity": 0},
          "encoding": {
            "y": {
              "datum": 60, "type": "quantitative", "title": null,
              "scale": {"domain": [5.65, 117.91], "nice": false, "zero": false},
              "axis": {"orient": "right", "offset": 50, "values": [10, 15, 20, 25, 30, 35, 40, 45, 50, 55, 60, 65, 70, 75, 80, 85, 90, 95, 100, 105, 110, 115], "tickCount": 100, "format": ".2f", "labelOverlap": false, "grid": false, "ticks": false, "labelPadding": 10, "domainColor": "#e0e3eb", "title": null}
            }
          }
        }
      ],
      "resolve": {"scale": {"y": "independent"}, "axis": {"y": "independent"}}
    },
    {
      "width": 1613,
      "height": 140,
      "layer": [
        {
          "layer": [
            {
              "data": {"name": "bars"},
              "transform": [{"window": [{"op": "lag", "field": "m", "as": "pm"}], "sort": [{"field": "i", "order": "ascending"}]}],
              "mark": {"type": "bar", "size": 2.3},
              "encoding": {
                "x": {
                  "field": "i", "type": "quantitative", "title": "TradingView",
                  "scale": {"domain": [-0.3, 469.5], "nice": false, "zero": false},
                  "axis": {
                    "values": [24, 54, 78, 114, 144, 174, 204, 234, 264, 294, 336, 360, 384, 414, 444],
                    "tickCount": 100,
                    "labelExpr": "datum.value == 24 ? '20' : datum.value == 54 ? '27' : datum.value == 78 ? 'Окт' : datum.value == 114 ? '11' : datum.value == 144 ? '18' : datum.value == 174 ? '25' : datum.value == 204 ? 'Ноя' : datum.value == 234 ? '8' : datum.value == 264 ? '15' : datum.value == 294 ? '22' : datum.value == 336 ? 'Дек' : datum.value == 360 ? '7' : datum.value == 384 ? '13' : datum.value == 414 ? '20' : '27'",
                    "labelOverlap": false,
                    "grid": true, "gridColor": "#f0f3fa", "ticks": false, "domainColor": "#e0e3eb", "labelPadding": 8,
                    "title": "TradingView", "titleAnchor": "start", "titleAlign": "left", "titleX": 24, "titleY": 45, "titleBaseline": "middle", "titleFontSize": 13, "titleFontWeight": "normal", "titleColor": "#131722", "titleFont": "Roboto"
                  }
                },
                "y": {
                  "field": "m", "type": "quantitative", "title": null,
                  "scale": {"domain": [-1.477, 0.857], "nice": false, "zero": false},
                  "axis": {"orient": "right", "values": [0.5, 0, -0.5, -1], "tickCount": 100, "labelExpr": "replace(format(datum.value, '.2f'), '-', '−')", "labelOverlap": false, "grid": true, "gridColor": "#f0f3fa", "ticks": false, "labelPadding": 10, "domainColor": "#e0e3eb", "title": null}
                },
                "y2": {"datum": 0},
                "color": {
                  "condition": [
                    {"test": "datum.m >= 0 && (datum.pm == null || datum.m >= datum.pm)", "value": "#26a69a"},
                    {"test": "datum.m >= 0", "value": "#b2dfdb"},
                    {"test": "datum.m <= datum.pm", "value": "#f05350"}
                  ],
                  "value": "#ffcdd2"
                }
              }
            },
            {
              "data": {"values": [{}]},
              "mark": {"type": "rule", "color": "#ff0000", "strokeWidth": 2},
              "encoding": {"y": {"datum": -1.383, "type": "quantitative"}}
            },
            {
              "data": {"values": [{}]},
              "mark": {"type": "rect", "color": "#ff0000"},
              "encoding": {
                "x": {"datum": 469.5, "type": "quantitative"},
                "x2": {"datum": 482.9},
                "y": {"datum": -1.252, "type": "quantitative"},
                "y2": {"datum": -1.477}
              }
            },
            {
              "data": {"values": [{}]},
              "mark": {"type": "text", "align": "center", "baseline": "middle", "color": "white", "fontWeight": "bold", "fontSize": 12, "text": "−1.38"},
              "encoding": {
                "x": {"datum": 476.5, "type": "quantitative"},
                "y": {"datum": -1.36, "type": "quantitative"}
              }
            },
            {
              "data": {"name": "ab"},
              "mark": {"type": "circle", "size": 300, "color": "#f0f3fa", "opacity": 1},
              "encoding": {
                "x": {"field": "i", "type": "quantitative"},
                "y": {"datum": -1.70, "type": "quantitative"}
              }
            },
            {
              "data": {"name": "ab"},
              "mark": {"type": "text", "align": "center", "baseline": "middle", "fontSize": 11, "color": "#50535e"},
              "encoding": {
                "x": {"field": "i", "type": "quantitative"},
                "y": {"datum": -1.70, "type": "quantitative"},
                "text": {"field": "t"}
              }
            }
          ]
        },
        {
          "data": {"values": [{}]},
          "mark": {"type": "rule", "opacity": 0},
          "encoding": {
            "y": {
              "datum": 0.5, "type": "quantitative", "title": null,
              "scale": {"domain": [0, 1], "nice": false, "zero": false},
              "axis": {"orient": "right", "offset": 50, "values": [], "labels": false, "grid": false, "ticks": false, "domainColor": "#e0e3eb", "title": null}
            }
          }
        }
      ],
      "resolve": {"scale": {"y": "independent"}, "axis": {"y": "independent"}}
    }
  ],
  "config": {
    "font": "Roboto",
    "view": {"stroke": "#e0e3eb"},
    "axis": {"labelFont": "Roboto", "labelFontSize": 12, "labelColor": "#131722", "tickSize": 0, "labelOverlap": false},
    "text": {"font": "Roboto"}
  }
}
